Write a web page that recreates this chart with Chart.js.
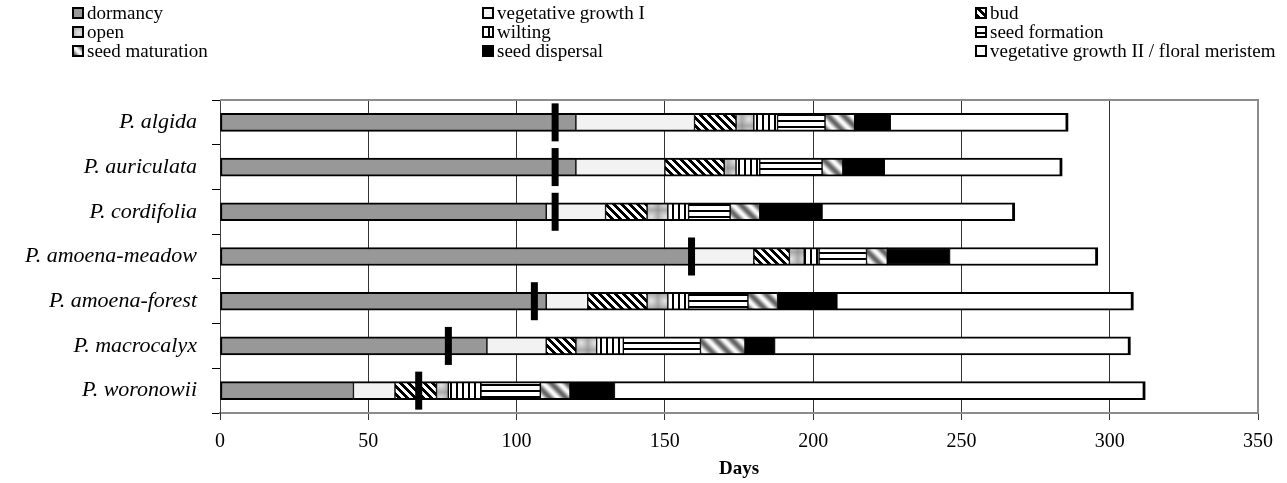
<!DOCTYPE html>
<html>
<head>
<meta charset="utf-8">
<script src="https://cdn.jsdelivr.net/npm/chart.js@4.4.0/dist/chart.umd.min.js"></script>
<style>
    html, body { margin: 0; padding: 0; background: #fff; }
    #wrap { position: relative; width: 1287px; height: 483px; }
    #legend { position: absolute; left: 0; top: 0; width: 1287px; height: 70px;
        font-family: "Liberation Serif", "Times New Roman", serif; font-size: 19px; color: #000; }
    .item { position: absolute; display: flex; align-items: center; white-space: nowrap; height: 20px; }
    .item canvas { margin-right: 3px; }
</style>
</head>
<body>
<div id="wrap">
    <canvas id="chart" width="1287" height="483"></canvas>
    <div id="legend"></div>
</div>
<script>
const species = ["P. algida", "P. auriculata", "P. cordifolia", "P. amoena-meadow",
    "P. amoena-forest", "P. macrocalyx", "P. woronowii"];

// phase durations in days, one value per species
const dormancy       = [120, 120, 110, 159, 110, 90, 45];
const vegGrowth1     = [40, 30, 20, 21, 14, 20, 14];
const bud            = [14, 20, 14, 12, 20, 10, 14];
const open           = [6, 4, 7, 5, 7, 7, 4];
const wilting        = [8, 8, 7, 5, 7, 9, 11];
const seedFormation  = [16, 21, 14, 16, 20, 26, 20];
const seedMaturation = [10, 7, 10, 7, 10, 15, 10];
const seedDispersal  = [12, 14, 21, 21, 20, 10, 15];
const vegGrowth2     = [60, 60, 65, 50, 100, 120, 179];

// black marker position (day) per species
const markerDays = [113, 113, 113, 159, 106, 77, 67];

const xTicks = [0, 50, 100, 150, 200, 250, 300, 350];

// grey-level tiles for the fill patterns
function makeTile(w, h, shade) {
    const c = document.createElement("canvas");
    c.width = w; c.height = h;
    const g = c.getContext("2d");
    const img = g.createImageData(w, h);
    for (let y = 0; y < h; y++) {
        for (let x = 0; x < w; x++) {
            const v = shade(x, y);
            const i = (y * w + x) * 4;
            img.data[i] = img.data[i + 1] = img.data[i + 2] = v;
            img.data[i + 3] = 255;
        }
    }
    g.putImageData(img, 0, 0);
    return c;
}

const tiles = {
    dormancy: makeTile(4, 4, () => 152),
    veg1: makeTile(4, 4, () => 242),
    bud: makeTile(8, 8, (x, y) => (((x - y) % 8) + 8) % 8 < 4 ? 0 : 255),
    open: makeTile(14, 14, (x, y) => {
        const d = Math.hypot(x - 6.5, y - 6.5);
        return Math.round(228 - d * 8);
    }),
    wilting: makeTile(6, 6, (x) => x % 6 < 2 ? 0 : 255),
    seedForm: makeTile(6, 6, (x, y) => y % 6 < 2 ? 0 : 255),
    seedMat: makeTile(16, 16, (x, y) => {
        const p = ((((x - y) % 16) + 16) % 16) / 16;
        return Math.round(175 + 75 * Math.cos(2 * Math.PI * p));
    }),
    dispersal: makeTile(4, 4, () => 0),
    veg2: makeTile(4, 4, () => 255)
};

const phases = [
    { label: "dormancy", data: dormancy, tile: tiles.dormancy },
    { label: "vegetative growth I", data: vegGrowth1, tile: tiles.veg1 },
    { label: "bud", data: bud, tile: tiles.bud },
    { label: "open", data: open, tile: tiles.open },
    { label: "wilting", data: wilting, tile: tiles.wilting },
    { label: "seed formation", data: seedFormation, tile: tiles.seedForm },
    { label: "seed maturation", data: seedMaturation, tile: tiles.seedMat },
    { label: "seed dispersal", data: seedDispersal, tile: tiles.dispersal },
    { label: "vegetative growth II / floral meristem", data: vegGrowth2, tile: tiles.veg2 }
];

const canvas = document.getElementById("chart");
const ctx = canvas.getContext("2d");

const barSets = phases.map((p, i) => ({
    type: "bar",
    label: p.label,
    data: p.data,
    backgroundColor: ctx.createPattern(p.tile, "repeat"),
    borderColor: "#000",
    borderWidth: {
        top: 2, bottom: 2,
        left: i === 0 ? 2 : 1,
        right: i === phases.length - 1 ? 3 : 1
    },
    borderSkipped: false,
    barThickness: 18,
    stack: "phen",
    order: 1
}));

const markerSet = {
    type: "scatter",
    label: "marker",
    data: species.map((s, i) => ({ x: markerDays[i], y: s })),
    pointStyle: "line",
    rotation: 90,
    radius: 19,
    borderWidth: 7,
    borderColor: "#000",
    backgroundColor: "#000",
    order: 0
};

// grey frame along top and right of the plot area
const framePlugin = {
    id: "frame",
    beforeDatasetsDraw(chart) {
        const a = chart.chartArea;
        const c = chart.ctx;
        c.save();
        c.strokeStyle = "#8c8c8c";
        c.lineWidth = 2;
        c.beginPath();
        c.moveTo(a.left, a.top);
        c.lineTo(a.right, a.top);
        c.lineTo(a.right, a.bottom);
        c.stroke();
        c.restore();
    }
};

const serif = "'Liberation Serif', 'Times New Roman', serif";

new Chart(canvas, {
    data: {
        labels: species,
        datasets: [...barSets, markerSet]
    },
    options: {
        indexAxis: "y",
        responsive: false,
        animation: false,
        events: [],
        layout: { padding: { top: 100, right: 29, left: 0, bottom: 0 } },
        plugins: {
            legend: { display: false },
            tooltip: { enabled: false }
        },
        scales: {
            x: {
                type: "linear",
                stacked: true,
                min: 0,
                max: 350,
                afterBuildTicks: (scale) => { scale.ticks = xTicks.map(v => ({ value: v })); },
                afterFit: (scale) => { scale.height = 70; },
                grid: { color: "#333", lineWidth: 1, tickLength: 7 },
                border: { color: "#8c8c8c", width: 2 },
                ticks: {
                    color: "#000",
                    padding: 10,
                    font: { family: serif, size: 20 }
                },
                title: {
                    display: true,
                    text: "Days",
                    color: "#000",
                    padding: { top: 0, bottom: 3 },
                    font: { family: serif, size: 19, weight: "bold" }
                }
            },
            y: {
                type: "category",
                stacked: true,
                offset: true,
                afterFit: (scale) => { scale.width = 220; },
                grid: { offset: true, drawOnChartArea: false, color: "#000", tickLength: 8 },
                border: { color: "#404040", width: 1 },
                ticks: {
                    color: "#000",
                    padding: 15,
                    font: { family: serif, size: 22, style: "italic" }
                }
            }
        }
    },
    plugins: [framePlugin]
});

// legend in three columns, filled row by row
const legendCols = [72, 482, 975];
const legendRows = [3, 22, 41];
const legend = document.getElementById("legend");
phases.forEach((p, i) => {
    const item = document.createElement("div");
    item.className = "item";
    item.style.left = legendCols[i % 3] + "px";
    item.style.top = legendRows[Math.floor(i / 3)] + "px";
    const sw = document.createElement("canvas");
    sw.width = 12; sw.height = 12;
    const g = sw.getContext("2d");
    g.fillStyle = g.createPattern(p.tile, "repeat");
    g.fillRect(0, 0, 12, 12);
    g.strokeStyle = "#000";
    g.lineWidth = 2;
    g.strokeRect(1, 1, 10, 10);
    item.appendChild(sw);
    item.appendChild(document.createTextNode(p.label));
    legend.appendChild(item);
});
</script>
</body>
</html>
